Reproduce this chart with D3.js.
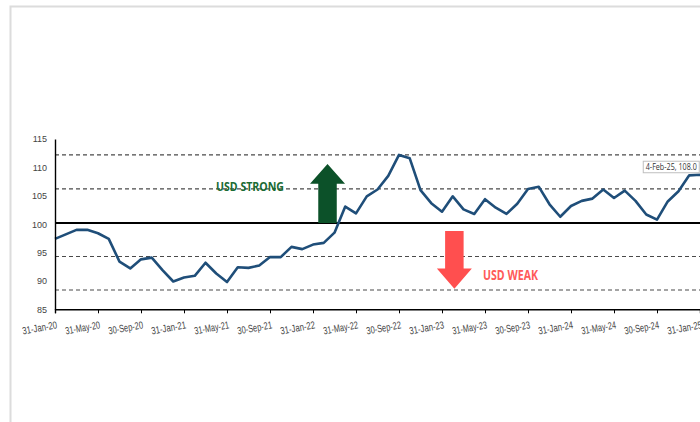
<!DOCTYPE html>
<html>
<head>
<meta charset="utf-8">
<script src="https://cdn.jsdelivr.net/npm/d3@7"></script>
<style>
  html, body { margin: 0; padding: 0; background: #fff; }
  svg { display: block; font-family: "Open Sans", "Noto Sans", sans-serif; }
</style>
</head>
<body>
<svg id="chart" width="700" height="422"></svg>
<script>
// US dollar index, month-end readings (last point: 4-Feb-25)
const months = [
  "31-Jan-20","29-Feb-20","31-Mar-20","30-Apr-20","31-May-20","30-Jun-20","31-Jul-20","31-Aug-20","30-Sep-20","31-Oct-20","30-Nov-20","31-Dec-20",
  "31-Jan-21","28-Feb-21","31-Mar-21","30-Apr-21","31-May-21","30-Jun-21","31-Jul-21","31-Aug-21","30-Sep-21","31-Oct-21","30-Nov-21","31-Dec-21",
  "31-Jan-22","28-Feb-22","31-Mar-22","30-Apr-22","31-May-22","30-Jun-22","31-Jul-22","31-Aug-22","30-Sep-22","31-Oct-22","30-Nov-22","31-Dec-22",
  "31-Jan-23","28-Feb-23","31-Mar-23","30-Apr-23","31-May-23","30-Jun-23","31-Jul-23","31-Aug-23","30-Sep-23","31-Oct-23","30-Nov-23","31-Dec-23",
  "31-Jan-24","29-Feb-24","31-Mar-24","30-Apr-24","31-May-24","30-Jun-24","31-Jul-24","31-Aug-24","30-Sep-24","31-Oct-24","30-Nov-24","31-Dec-24",
  "31-Jan-25","4-Feb-25"
];
const dxy = [
  97.4, 98.2, 99.0, 99.0, 98.4, 97.4, 93.4, 92.2, 93.8, 94.1, 91.9, 89.9,
  90.6, 90.9, 93.2, 91.3, 89.8, 92.4, 92.3, 92.7, 94.2, 94.2, 96.0, 95.6,
  96.4, 96.7, 98.5, 103.1, 101.9, 104.9, 106.1, 108.5, 112.2, 111.6, 106.0, 103.7,
  102.2, 104.9, 102.6, 101.8, 104.4, 102.9, 101.8, 103.6, 106.2, 106.6, 103.5, 101.3,
  103.2, 104.1, 104.5, 106.1, 104.6, 105.9, 104.1, 101.7, 100.8, 104.0, 105.8, 108.6,
  108.7, 108.0
];
const yTicks = [85, 90, 95, 100, 105, 110, 115];
const xTickEvery = 4;
const meanLevel = 100.2;
const bandLevels = [112.2, 106.2, 94.3, 88.4];
const calloutIndex = 61;
const calloutValue = 108.0;
const calloutText = "4-Feb-25, 108.0";

const svg = d3.select("#chart");

// light frame around the panel
svg.append("path")
  .attr("d", "M10.5,422 V6.5 H700")
  .attr("fill", "none")
  .attr("stroke", "#dcdcdc")
  .attr("stroke-width", 2);

const x = d3.scaleLinear().domain([0, 60]).range([55, 700]);
const y = d3.scaleLinear().domain([85, 115]).range([309.3, 139]);

const g = svg.append("g");

// reference bands (dashed) and average (solid)
g.selectAll("line.band").data(bandLevels).join("line")
  .attr("class", "band")
  .attr("x1", x(0)).attr("x2", 700)
  .attr("y1", d => y(d)).attr("y2", d => y(d))
  .attr("stroke", "#4a4a4a")
  .attr("stroke-width", 1.2)
  .attr("stroke-dasharray", "4,3");

g.append("line")
  .attr("x1", x(0)).attr("x2", 700)
  .attr("y1", y(meanLevel)).attr("y2", y(meanLevel))
  .attr("stroke", "#000")
  .attr("stroke-width", 2);

// arrows: position in data space, widths in px
function arrow(cx, yTail, yHeadBase, yTip, shaftW, headW, color) {
  const X = x(cx);
  const p = d3.path();
  p.moveTo(X - shaftW / 2, y(yTail));
  p.lineTo(X - shaftW / 2, y(yHeadBase));
  p.lineTo(X - headW / 2, y(yHeadBase));
  p.lineTo(X, y(yTip));
  p.lineTo(X + headW / 2, y(yHeadBase));
  p.lineTo(X + shaftW / 2, y(yHeadBase));
  p.lineTo(X + shaftW / 2, y(yTail));
  p.closePath();
  g.append("path").attr("d", p.toString()).attr("fill", color);
}
arrow(25.35, 100.2, 107.1, 110.6, 18.5, 35, "#0c5129");
arrow(37.15, 98.8, 92.2, 88.6, 18.5, 35, "#ff4f4f");

g.append("text")
  .attr("x", 216).attr("y", y(105.9))
  .attr("fill", "#1a6b34")
  .attr("font-size", 12.5).attr("font-weight", 700)
  .attr("textLength", 68).attr("lengthAdjust", "spacingAndGlyphs")
  .text("USD STRONG");

g.append("text")
  .attr("x", 483).attr("y", y(90.1))
  .attr("fill", "#ff5a5a")
  .attr("font-size", 13.5).attr("font-weight", 700)
  .attr("textLength", 55).attr("lengthAdjust", "spacingAndGlyphs")
  .text("USD WEAK");

// series line
const line = d3.line().x((d, i) => x(i)).y(d => y(d));
g.append("path")
  .datum(dxy)
  .attr("d", line)
  .attr("fill", "none")
  .attr("stroke", "#1f4e79")
  .attr("stroke-width", 2.6)
  .attr("stroke-linejoin", "round");

// axes
const yAxis = d3.axisLeft(y).tickValues(yTicks).tickSize(0).tickPadding(8).tickFormat(d3.format("d"));
const ya = svg.append("g").attr("transform", `translate(${x(0)},0)`).call(yAxis);
ya.select(".domain").attr("stroke", "#000").attr("stroke-width", 1.4);
ya.selectAll("text").attr("font-size", 9).attr("fill", "#444");

const tickIdx = d3.range(0, 61, xTickEvery);
const xAxis = d3.axisBottom(x).tickValues(tickIdx).tickSize(4).tickFormat(i => months[i]);
const xa = svg.append("g").attr("transform", `translate(0,${y(85)})`).call(xAxis);
xa.select(".domain").attr("stroke", "#000").attr("stroke-width", 1.4);
xa.selectAll(".tick line").attr("stroke", "#000");
xa.selectAll("text")
  .attr("font-size", 10.5).attr("fill", "#444")
  .attr("text-anchor", "end")
  .attr("dy", null)
  .attr("y", 0)
  .attr("textLength", 35).attr("lengthAdjust", "spacingAndGlyphs")
  .attr("transform", "translate(2,19) rotate(-10)");

// latest value callout
const box = svg.append("g").attr("transform", `translate(${x(calloutIndex) - 68},${y(calloutValue) - 18})`);
box.append("rect")
  .attr("x", 0.5).attr("y", 0.5).attr("width", 56).attr("height", 11.5)
  .attr("fill", "#fff").attr("stroke", "#bfbfbf");
box.append("text")
  .attr("x", 28.5).attr("y", 9.3)
  .attr("text-anchor", "middle")
  .attr("font-size", 9).attr("fill", "#333")
  .attr("textLength", 51).attr("lengthAdjust", "spacingAndGlyphs")
  .text(calloutText);
</script>
</body>
</html>
